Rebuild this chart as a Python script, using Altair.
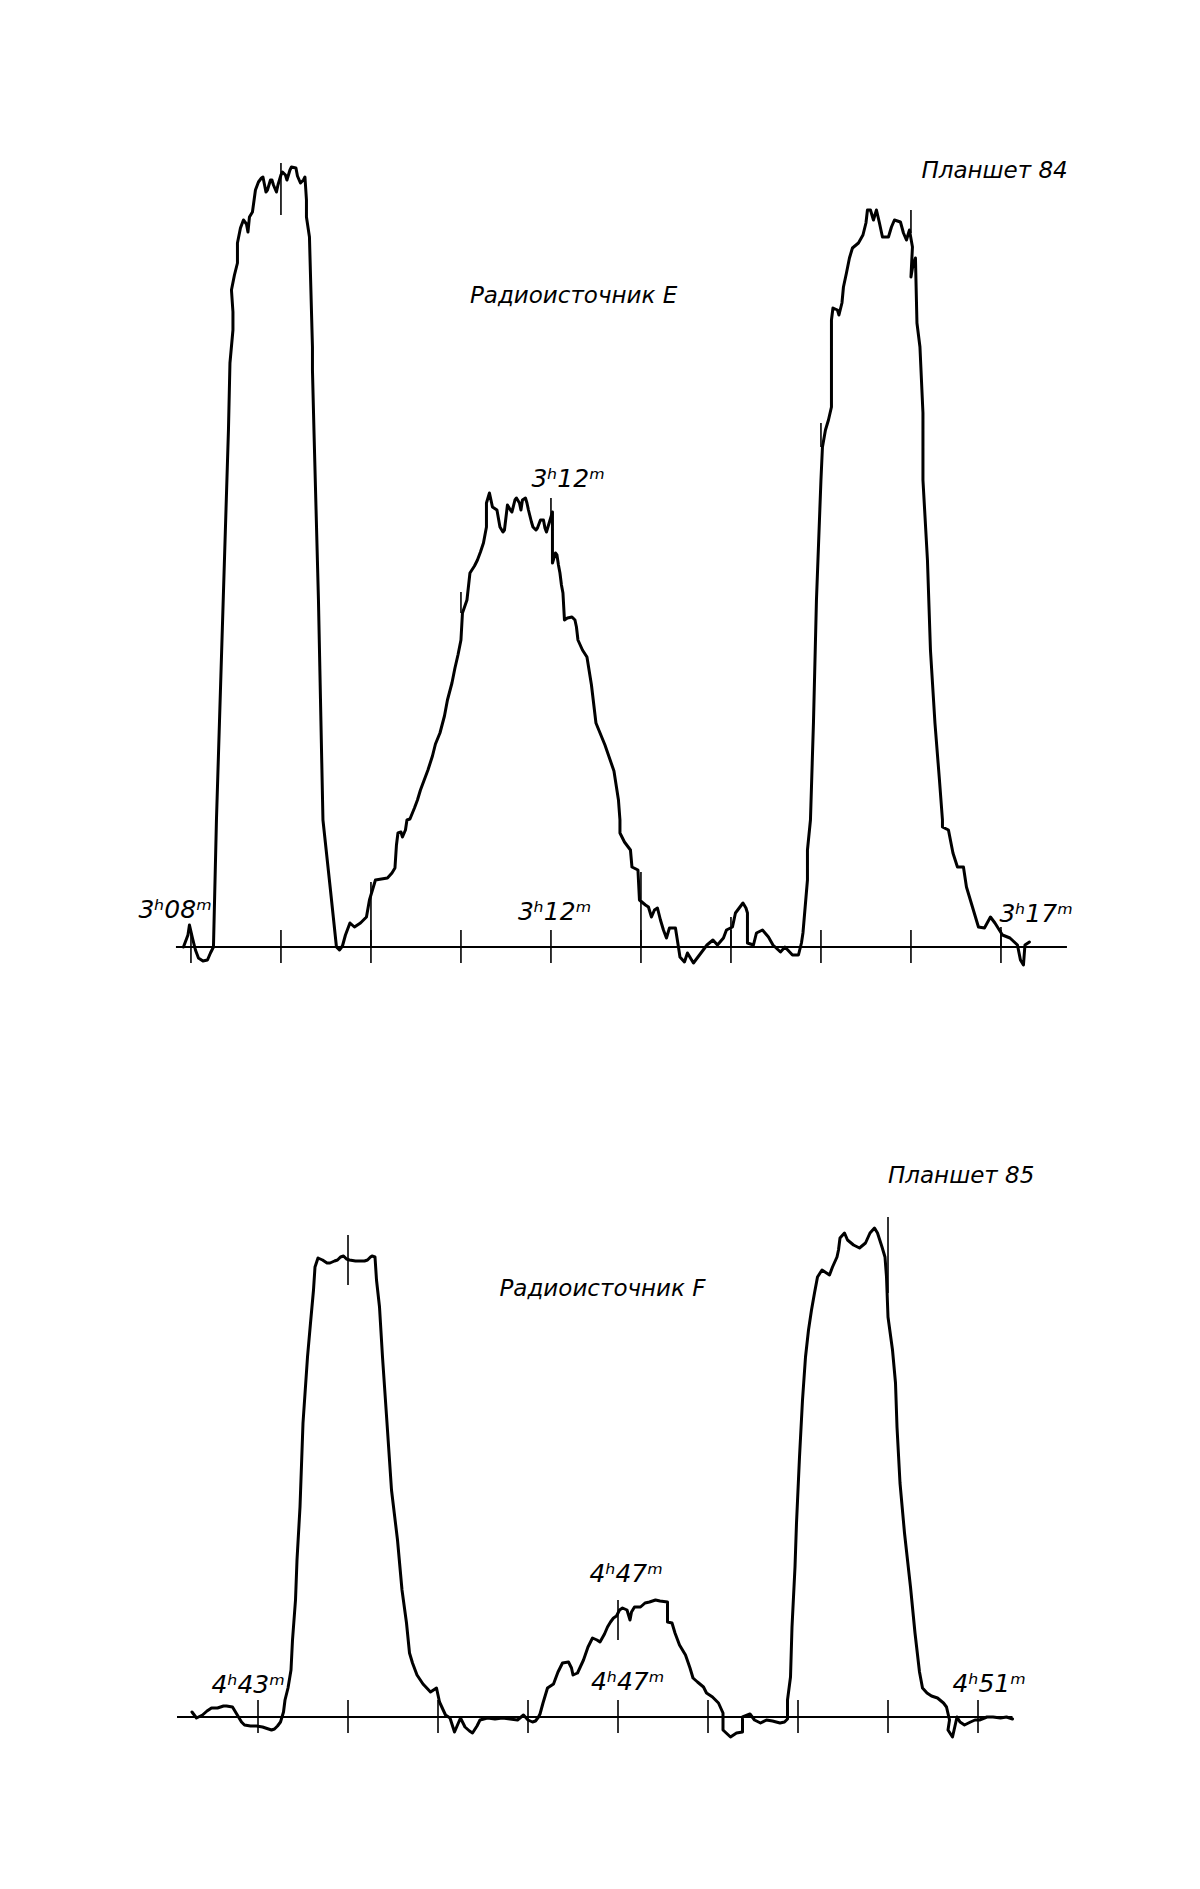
import altair as alt
import pandas as pd

# ---------------------------------------------------------------------------
# Plate 84, radio source E.  Time in seconds after 3h00m, pen deflection in
# chart divisions above the zero line.
# ---------------------------------------------------------------------------
e_time = [475, 478, 479, 481, 483, 485, 488, 491, 493, 495, 497, 505, 506, 508, 508,
          507, 509, 511, 511, 513, 515, 517, 518, 519, 521, 523, 525, 527, 528, 530,
          531, 533, 534, 535, 537, 538, 540, 541, 543, 544, 546, 547, 550, 551, 553,
          555, 556, 557, 557, 559, 561, 561, 562, 565, 568, 573, 577, 579, 581, 583,
          586, 589, 593, 597, 599, 603, 607, 611, 614, 616, 617, 618, 620, 621, 623,
          624, 626, 629, 631, 633, 635, 638, 641, 643, 646, 649, 651, 654, 656, 658,
          660, 661, 664, 666, 669, 671, 673, 675, 677, 677, 679, 681, 684, 686, 688,
          689, 691, 693, 694, 696, 697, 699, 700, 701, 703, 704, 705, 707, 708, 710,
          711, 713, 715, 716, 717, 719, 721, 721, 721, 723, 724, 725, 726, 727, 728,
          729, 731, 734, 736, 737, 738, 741, 744, 747, 750, 756, 762, 765, 766, 766,
          769, 773, 774, 778, 779, 783, 785, 787, 789, 791, 793, 795, 797, 799, 803,
          805, 806, 809, 811, 815, 819, 824, 828, 831, 835, 837, 841, 843, 846, 848,
          850, 851, 851, 855, 857, 861, 865, 868, 873, 876, 881, 885, 887, 888, 891,
          891, 893, 895, 897, 900, 901, 903, 905, 907, 907, 908, 911, 912, 914, 915,
          917, 919, 921, 925, 928, 930, 931, 933, 935, 937, 939, 941, 945, 947, 949,
          953, 955, 957, 959, 961, 960, 961, 963, 964, 966, 967, 968, 968, 971, 973,
          976, 979, 981, 981, 985, 988, 991, 995, 997, 1001, 1005, 1009, 1013, 1016,
          1021, 1026, 1031, 1033, 1035, 1036, 1039]
e_level = [0.0, 1.2, 2.2, 0.9, -0.3, -1.1, -1.4, -1.3, -0.6, 0.0, 12.7, 51.7, 58.4, 61.7, 63.5,
           65.7, 67.2, 68.4, 70.4, 71.9, 72.7, 72.3, 71.5, 73.0, 73.5, 75.7, 76.5, 76.9, 77.0, 75.5,
           75.7, 76.7, 76.7, 76.2, 75.5, 76.2, 77.2, 77.5, 77.2, 76.7, 77.7, 78.0, 77.9, 77.1, 76.4,
           76.7, 77.0, 74.7, 73.0, 71.0, 60.0, 57.7, 51.7, 34.7, 12.7, 5.7, 0.0, -0.3, 0.1, 1.2,
           2.4, 2.0, 2.4, 3.0, 4.7, 6.7, 6.8, 6.9, 7.4, 7.9, 10.2, 11.4, 11.5, 11.0, 11.7,
           12.7, 12.8, 13.9, 14.7, 15.7, 16.5, 17.7, 19.1, 20.3, 21.4, 23.1, 24.7, 26.4, 27.9, 29.2,
           30.7, 33.4, 34.7, 37.4, 38.1, 38.7, 39.5, 40.4, 42.0, 44.4, 45.4, 44.0, 43.7, 42.0, 41.5,
           41.7, 44.2, 43.7, 43.5, 44.7, 44.9, 44.4, 43.7, 44.7, 44.9, 44.4, 43.7, 42.5, 42.0, 41.7,
           41.9, 42.7, 42.7, 41.9, 41.5, 42.5, 43.5, 40.7, 38.4, 39.4, 39.2, 38.2, 37.4, 36.2, 35.4,
           32.7, 32.9, 33.0, 32.7, 32.0, 30.7, 29.7, 29.0, 26.2, 22.4, 20.2, 17.6, 14.7, 12.7, 11.4,
           10.5, 9.7, 8.0, 7.7, 4.7, 4.2, 4.0, 3.0, 3.7, 3.9, 2.7, 1.7, 0.9, 1.9, 1.9,
           0.0, -1.0, -1.5, -0.6, -1.6, -0.8, 0.2, 0.7, 0.2, 0.9, 1.7, 2.0, 3.4, 4.0, 4.4,
           3.9, 3.4, 0.4, 0.2, 1.4, 1.7, 1.0, 0.2, -0.5, 0.0, -0.8, -0.8, 0.4, 1.4, 6.7,
           9.7, 12.7, 22.4, 34.7, 46.7, 50.0, 51.7, 52.7, 54.0, 62.7, 63.9, 63.7, 63.2, 64.4, 66.0,
           67.4, 68.9, 69.9, 70.4, 71.2, 72.4, 73.7, 73.7, 72.7, 73.7, 72.4, 71.0, 71.0, 72.0, 72.7,
           72.5, 71.4, 70.7, 71.7, 70.0, 67.0, 67.9, 68.9, 62.4, 60.0, 56.7, 53.4, 46.7, 38.7, 29.7,
           22.4, 16.7, 12.7, 12.0, 11.7, 9.4, 8.0, 8.0, 6.0, 4.0, 2.0, 1.9, 3.0, 2.4,
           1.2, 0.9, 0.2, -1.3, -1.8, 0.2, 0.5]

# ---------------------------------------------------------------------------
# Plate 85, radio source F.  Time in seconds after 4h00m.
# ---------------------------------------------------------------------------
f_time = [2536, 2539, 2543, 2546, 2549, 2553, 2557, 2559, 2563, 2565, 2567, 2569, 2571, 2575, 2579,
          2583, 2587, 2589, 2591, 2593, 2595, 2597, 2598, 2600, 2602, 2603, 2605, 2606, 2608, 2610,
          2613, 2615, 2617, 2618, 2620, 2623, 2626, 2628, 2631, 2633, 2635, 2637, 2639, 2641, 2645,
          2648, 2651, 2653, 2655, 2656, 2658, 2659, 2661, 2663, 2666, 2669, 2673, 2676, 2679, 2681,
          2683, 2686, 2690, 2695, 2699, 2701, 2705, 2708, 2711, 2715, 2718, 2721, 2723, 2726, 2728,
          2733, 2738, 2743, 2748, 2753, 2757, 2760, 2763, 2765, 2767, 2768, 2770, 2773, 2777, 2780,
          2783, 2787, 2789, 2790, 2793, 2797, 2800, 2803, 2806, 2808, 2811, 2813, 2815, 2817, 2819,
          2821, 2823, 2826, 2828, 2829, 2831, 2835, 2838, 2841, 2845, 2848, 2853, 2853, 2856, 2858,
          2861, 2865, 2868, 2870, 2873, 2877, 2879, 2883, 2887, 2890, 2890, 2895, 2899, 2903, 2903,
          2908, 2911, 2915, 2919, 2923, 2928, 2931, 2933, 2933, 2935, 2936, 2938, 2939, 2941, 2943,
          2945, 2947, 2949, 2951, 2953, 2956, 2959, 2961, 2963, 2966, 2967, 2968, 2971, 2973, 2977,
          2981, 2985, 2988, 2991, 2993, 2996, 2998, 2999, 3000, 3003, 3005, 3006, 3008, 3011, 3015,
          3018, 3021, 3023, 3026, 3029, 3033, 3037, 3039, 3041, 3040, 3043, 3046, 3048, 3051, 3055,
          3058, 3061, 3066, 3070, 3075, 3079, 3083]
f_level = [0.5, -0.1, 0.2, 0.6, 0.9, 0.9, 1.1, 1.1, 1.0, 0.5, 0.0, -0.5, -0.8, -0.9, -0.9,
           -1.0, -1.2, -1.3, -1.2, -0.9, -0.5, 0.5, 1.7, 2.9, 4.7, 7.7, 11.7, 15.7, 21.0, 29.4,
           36.0, 39.4, 42.7, 45.0, 45.9, 45.7, 45.4, 45.4, 45.6, 45.7, 46.0, 46.1, 45.8, 45.7, 45.6,
           45.6, 45.6, 45.7, 46.0, 46.1, 46.0, 43.7, 41.0, 36.0, 29.4, 22.7, 17.7, 12.7, 9.4, 6.4,
           5.4, 4.2, 3.3, 2.5, 2.9, 1.5, 0.2, -0.1, -1.5, -0.1, -1.0, -1.4, -1.6, -0.9, -0.3,
           -0.1, -0.2, -0.1, -0.2, -0.3, 0.2, -0.3, -0.5, -0.4, 0.0, 0.3, 1.4, 2.9, 3.3, 4.5,
           5.4, 5.5, 4.9, 4.2, 4.4, 5.7, 7.0, 7.9, 7.7, 7.5, 8.3, 9.0, 9.5, 9.9, 10.1,
           10.7, 10.9, 10.7, 9.7, 10.5, 11.0, 11.0, 11.4, 11.5, 11.7, 11.6, 11.5, 9.5, 9.4, 8.4,
           7.2, 6.2, 4.9, 3.9, 3.5, 3.0, 2.4, 2.0, 1.4, 0.4, -1.3, -2.0, -1.6, -1.5, 0.0,
           0.3, -0.3, -0.6, -0.3, -0.4, -0.6, -0.5, -0.2, 1.7, 4.0, 9.0, 15.0, 19.4, 26.0, 31.7,
           36.0, 38.7, 40.7, 42.4, 44.0, 44.7, 44.4, 44.2, 45.0, 46.0, 46.7, 47.9, 48.4, 47.7, 47.2,
           46.9, 47.4, 48.4, 48.9, 48.4, 47.0, 46.0, 44.0, 40.0, 36.7, 33.4, 29.0, 23.4, 18.4, 13.0,
           8.4, 4.5, 2.9, 2.4, 2.1, 1.9, 1.4, 1.0, -0.3, -1.3, -2.0, 0.0, -0.5, -0.8, -0.5,
           -0.3, -0.3, 0.0, 0.0, -0.1, 0.0, -0.2]

# Minute marks along the zero line
e_minutes = list(range(8, 18))      # 3h08m .. 3h17m
f_minutes = list(range(43, 52))     # 4h43m .. 4h51m

# Time marks written on the trace itself: minute, lower and upper deflection
e_mark_min = [9, 10, 11, 12, 13, 14, 15, 16, 17]
e_mark_lo = [73.2, 0.0, 33.4, 42.7, 0.0, 0.0, 50.0, 71.4, 0.0]
e_mark_hi = [78.4, 6.5, 35.5, 44.9, 7.5, 3.0, 52.4, 73.7, 2.0]
f_mark_min = [44, 47, 50]
f_mark_lo = [43.2, 7.7, 42.4]
f_mark_hi = [48.2, 11.7, 50.0]

# Extent of the drawn zero line (seconds)
e_span = [470, 1064]
f_span = [2526, 3083]

# Headings and time annotations: text, time (s), deflection of the text baseline
e_heads = ["Планшет 84", "Радиоисточник  E"]
e_head_t = [967, 666]
e_head_v = [76.9, 64.4]
e_times = ["3ʰ08ᵐ", "3ʰ12ᵐ", "3ʰ12ᵐ", "3ʰ17ᵐ"]
e_times_t = [445, 698, 707, 1019]
e_times_v = [2.9, 2.7, 46.0, 2.5]

f_heads = ["Планшет 85", "Радиоисточник  F"]
f_head_t = [3000, 2741]
f_head_v = [53.4, 42.1]
f_times = ["4ʰ43ᵐ", "4ʰ47ᵐ", "4ʰ47ᵐ", "4ʰ51ᵐ"]
f_times_t = [2549, 2801, 2802, 3043]
f_times_v = [2.4, 13.5, 2.7, 2.5]

FONT = "DejaVu Sans"


def panel(time, level, minutes, mark_min, mark_lo, mark_hi, span,
          heads, head_t, head_v, times, times_t, times_v,
          x_domain, y_domain, height):
    xs = alt.Scale(domain=x_domain, nice=False, zero=False)
    ys = alt.Scale(domain=y_domain, nice=False, zero=False)

    trace = pd.DataFrame({"t": time, "v": level, "i": range(len(time))})
    curve = alt.Chart(trace).mark_line(
        color="black", strokeWidth=3, strokeJoin="round", strokeCap="round"
    ).encode(
        x=alt.X("t:Q", scale=xs, axis=None),
        y=alt.Y("v:Q", scale=ys, axis=None),
        order=alt.Order("i:Q"),
    )

    zero = pd.DataFrame({"t": [span[0]], "t2": [span[1]], "v": [0.0]})
    baseline = alt.Chart(zero).mark_rule(color="black", strokeWidth=2).encode(
        x=alt.X("t:Q", scale=xs, axis=None),
        x2="t2:Q",
        y=alt.Y("v:Q", scale=ys, axis=None),
    )

    tick_df = pd.DataFrame({"t": [m * 60 for m in minutes],
                            "lo": [-1.6] * len(minutes),
                            "hi": [1.7] * len(minutes)})
    ticks = alt.Chart(tick_df).mark_rule(color="black", strokeWidth=1.6).encode(
        x=alt.X("t:Q", scale=xs, axis=None),
        y=alt.Y("lo:Q", scale=ys, axis=None),
        y2="hi:Q",
    )

    mark_df = pd.DataFrame({"t": [m * 60 for m in mark_min],
                            "lo": mark_lo, "hi": mark_hi})
    marks = alt.Chart(mark_df).mark_rule(color="black", strokeWidth=1.6).encode(
        x=alt.X("t:Q", scale=xs, axis=None),
        y=alt.Y("lo:Q", scale=ys, axis=None),
        y2="hi:Q",
    )

    head_df = pd.DataFrame({"label": heads, "t": head_t, "v": head_v})
    head_text = alt.Chart(head_df).mark_text(
        align="left", baseline="alphabetic", font=FONT, fontStyle="italic",
        fontSize=23, color="black",
    ).encode(
        x=alt.X("t:Q", scale=xs, axis=None),
        y=alt.Y("v:Q", scale=ys, axis=None),
        text="label:N",
    )

    time_df = pd.DataFrame({"label": times, "t": times_t, "v": times_v})
    time_text = alt.Chart(time_df).mark_text(
        align="left", baseline="alphabetic", font=FONT, fontStyle="italic",
        fontSize=25, color="black",
    ).encode(
        x=alt.X("t:Q", scale=xs, axis=None),
        y=alt.Y("v:Q", scale=ys, axis=None),
        text="label:N",
    )

    return alt.layer(baseline, ticks, marks, curve, head_text, time_text).properties(
        width=1200, height=height
    )


top = panel(e_time, e_level, e_minutes, e_mark_min, e_mark_lo, e_mark_hi, e_span,
            e_heads, e_head_t, e_head_v, e_times, e_times_t, e_times_v,
            x_domain=[352.7, 1152.7], y_domain=[-5.3, 94.7], height=1000)

bottom = panel(f_time, f_level, f_minutes, f_mark_min, f_mark_lo, f_mark_hi, f_span,
               f_heads, f_head_t, f_head_v, f_times, f_times_t, f_times_v,
               x_domain=[2408, 3208], y_domain=[-17.2, 71.7], height=889)

chart = alt.vconcat(top, bottom, spacing=0, bounds="flush").properties(
    padding=0, background="white"
).configure_view(strokeWidth=0)

chart.save("out.html", embed_options={"renderer": "svg", "actions": False})
